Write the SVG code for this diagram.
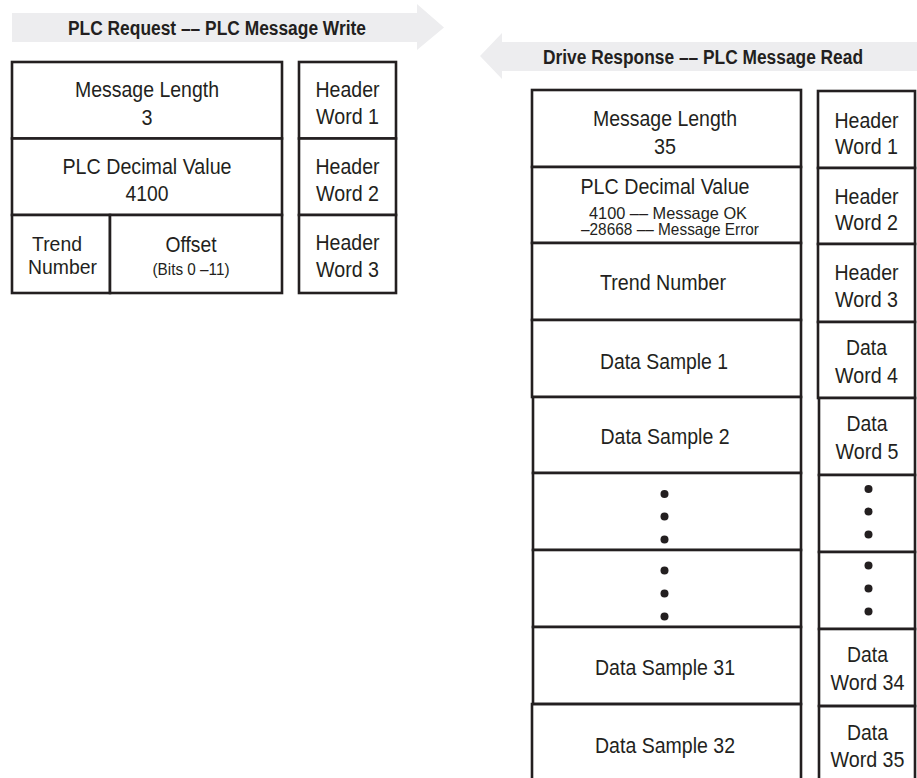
<svg xmlns="http://www.w3.org/2000/svg" width="917" height="778" viewBox="0 0 917 778">
<style>
.cell{fill:#fff;stroke:#231f20;stroke-width:2.6}
.open{fill:none;stroke:#231f20;stroke-width:2.6}
.arrow{fill:#ededef;stroke:none}
text{font-family:"Liberation Sans",Arial,sans-serif;fill:#231f20;text-anchor:middle}
.t{font-size:22px}
.tn{font-size:20.5px}
.s{font-size:17px}
.m{font-size:16.5px}
.b{font-size:20px;font-weight:bold}
.dot{fill:#231f20}
</style>
<rect width="917" height="778" fill="#fff"/>

<g id="request-banner">
<polygon class="arrow" points="12,13 417,13 417,4 444,27.5 417,50 417,42 12,42"/>
<text class="b" x="217" y="35" textLength="298" lengthAdjust="spacingAndGlyphs">PLC Request –– PLC Message Write</text>
</g>
<g id="response-banner">
<polygon class="arrow" points="917,42 502,42 502,33 480,56 502,79 502,71 917,71"/>
<text class="b" x="703" y="64" textLength="320" lengthAdjust="spacingAndGlyphs">Drive Response –– PLC Message Read</text>
</g>

<!-- Request table -->
<g id="req-message-length">
<rect class="cell" x="12" y="62" width="270" height="76.5"/>
<text class="t" x="147" y="97" textLength="144" lengthAdjust="spacingAndGlyphs">Message Length</text>
<text class="t" x="147" y="125" textLength="11" lengthAdjust="spacingAndGlyphs">3</text>
</g>
<g id="req-plc-decimal">
<rect class="cell" x="12" y="138.5" width="270" height="76.5"/>
<text class="t" x="147" y="173.5" textLength="169" lengthAdjust="spacingAndGlyphs">PLC Decimal Value</text>
<text class="t" x="147" y="201" textLength="43" lengthAdjust="spacingAndGlyphs">4100</text>
</g>
<g id="req-trend-number">
<rect class="cell" x="12" y="215" width="98" height="78"/>
<text class="tn" x="57" y="250.5" textLength="50" lengthAdjust="spacingAndGlyphs">Trend</text>
<text class="tn" x="62.5" y="274" textLength="69" lengthAdjust="spacingAndGlyphs">Number</text>
</g>
<g id="req-offset">
<rect class="cell" x="110" y="215" width="172" height="78"/>
<text class="t" x="191" y="251.5" textLength="51" lengthAdjust="spacingAndGlyphs">Offset</text>
<text class="s" x="191" y="275" textLength="77" lengthAdjust="spacingAndGlyphs">(Bits 0 –11)</text>
</g>
<g id="req-header-1">
<rect class="cell" x="299" y="62" width="97" height="76.5"/>
<text class="t" x="347.5" y="97" textLength="64" lengthAdjust="spacingAndGlyphs">Header</text>
<text class="t" x="347.5" y="124" textLength="63" lengthAdjust="spacingAndGlyphs">Word 1</text>
</g>
<g id="req-header-2">
<rect class="cell" x="299" y="138.5" width="97" height="76.5"/>
<text class="t" x="347.5" y="173.5" textLength="64" lengthAdjust="spacingAndGlyphs">Header</text>
<text class="t" x="347.5" y="200.5" textLength="63" lengthAdjust="spacingAndGlyphs">Word 2</text>
</g>
<g id="req-header-3">
<rect class="cell" x="299" y="215" width="97" height="78"/>
<text class="t" x="347.5" y="250" textLength="64" lengthAdjust="spacingAndGlyphs">Header</text>
<text class="t" x="347.5" y="277" textLength="63" lengthAdjust="spacingAndGlyphs">Word 3</text>
</g>

<!-- Response table -->
<g id="resp-message-length">
<rect class="cell" x="532" y="90" width="269" height="77"/>
<text class="t" x="665" y="126" textLength="144" lengthAdjust="spacingAndGlyphs">Message Length</text>
<text class="t" x="665" y="153.5" textLength="22" lengthAdjust="spacingAndGlyphs">35</text>
</g>
<g id="resp-plc-decimal">
<rect class="cell" x="532" y="167" width="269" height="76"/>
<text class="t" x="665" y="194" textLength="169" lengthAdjust="spacingAndGlyphs">PLC Decimal Value</text>
<text class="m" x="668" y="218.5" textLength="158" lengthAdjust="spacingAndGlyphs">4100 –– Message OK</text>
<text class="m" x="670" y="235" textLength="178" lengthAdjust="spacingAndGlyphs">–28668 –– Message Error</text>
</g>
<g id="resp-trend-number">
<rect class="cell" x="532" y="243" width="269" height="77"/>
<text class="t" x="663" y="290" textLength="126" lengthAdjust="spacingAndGlyphs">Trend Number</text>
</g>
<g id="resp-data-sample-1">
<rect class="cell" x="532" y="320" width="269" height="77"/>
<text class="t" x="664" y="368.5" textLength="128" lengthAdjust="spacingAndGlyphs">Data Sample 1</text>
</g>
<g id="resp-data-sample-2">
<rect class="cell" x="533" y="397" width="268" height="76"/>
<text class="t" x="665" y="444" textLength="129" lengthAdjust="spacingAndGlyphs">Data Sample 2</text>
</g>
<g id="resp-ellipsis-1">
<rect class="cell" x="533" y="473" width="268" height="77"/>
<circle class="dot" cx="664.5" cy="494" r="4"/>
<circle class="dot" cx="664.5" cy="516.5" r="4"/>
<circle class="dot" cx="664.5" cy="539.5" r="4"/>
</g>
<g id="resp-ellipsis-2">
<rect class="cell" x="533" y="550" width="268" height="77"/>
<circle class="dot" cx="664.5" cy="570.5" r="4"/>
<circle class="dot" cx="664.5" cy="593.5" r="4"/>
<circle class="dot" cx="664.5" cy="616.5" r="4"/>
</g>
<g id="resp-data-sample-31">
<rect class="cell" x="533" y="627" width="268" height="77"/>
<text class="t" x="665" y="675" textLength="140" lengthAdjust="spacingAndGlyphs">Data Sample 31</text>
</g>
<g id="resp-data-sample-32">
<path class="open" d="M532,781 V704 H801 V781"/>
<text class="t" x="665" y="752.5" textLength="140" lengthAdjust="spacingAndGlyphs">Data Sample 32</text>
</g>

<g id="resp-header-1">
<rect class="cell" x="818" y="91" width="97" height="77"/>
<text class="t" x="866.5" y="127.5" textLength="64" lengthAdjust="spacingAndGlyphs">Header</text>
<text class="t" x="866.5" y="153.5" textLength="63" lengthAdjust="spacingAndGlyphs">Word 1</text>
</g>
<g id="resp-header-2">
<rect class="cell" x="818" y="168" width="97" height="76"/>
<text class="t" x="866.5" y="203.5" textLength="64" lengthAdjust="spacingAndGlyphs">Header</text>
<text class="t" x="866.5" y="230" textLength="63" lengthAdjust="spacingAndGlyphs">Word 2</text>
</g>
<g id="resp-header-3">
<rect class="cell" x="818" y="244" width="97" height="78"/>
<text class="t" x="866.5" y="280" textLength="64" lengthAdjust="spacingAndGlyphs">Header</text>
<text class="t" x="866.5" y="307" textLength="63" lengthAdjust="spacingAndGlyphs">Word 3</text>
</g>
<g id="resp-data-word-4">
<rect class="cell" x="818" y="322" width="97" height="76"/>
<text class="t" x="866.5" y="355" textLength="41" lengthAdjust="spacingAndGlyphs">Data</text>
<text class="t" x="866.5" y="382.5" textLength="63" lengthAdjust="spacingAndGlyphs">Word 4</text>
</g>
<g id="resp-data-word-5">
<rect class="cell" x="819" y="398" width="96" height="77"/>
<text class="t" x="867" y="430.5" textLength="41" lengthAdjust="spacingAndGlyphs">Data</text>
<text class="t" x="867" y="458.5" textLength="63" lengthAdjust="spacingAndGlyphs">Word 5</text>
</g>
<g id="resp-word-ellipsis-1">
<rect class="cell" x="819" y="475" width="96" height="77"/>
<circle class="dot" cx="868.5" cy="489" r="4"/>
<circle class="dot" cx="868.5" cy="511.5" r="4"/>
<circle class="dot" cx="868.5" cy="534.5" r="4"/>
</g>
<g id="resp-word-ellipsis-2">
<rect class="cell" x="819" y="552" width="96" height="77"/>
<circle class="dot" cx="868.5" cy="565.5" r="4"/>
<circle class="dot" cx="868.5" cy="588.5" r="4"/>
<circle class="dot" cx="868.5" cy="611.5" r="4"/>
</g>
<g id="resp-data-word-34">
<rect class="cell" x="819" y="629" width="96" height="77"/>
<text class="t" x="867.5" y="662" textLength="41" lengthAdjust="spacingAndGlyphs">Data</text>
<text class="t" x="867.5" y="689.5" textLength="74" lengthAdjust="spacingAndGlyphs">Word 34</text>
</g>
<g id="resp-data-word-35">
<path class="open" d="M819,781 V706 H915 V781"/>
<text class="t" x="867.5" y="739.5" textLength="41" lengthAdjust="spacingAndGlyphs">Data</text>
<text class="t" x="867.5" y="767" textLength="74" lengthAdjust="spacingAndGlyphs">Word 35</text>
</g>

<g id="connectors"></g>
</svg>
